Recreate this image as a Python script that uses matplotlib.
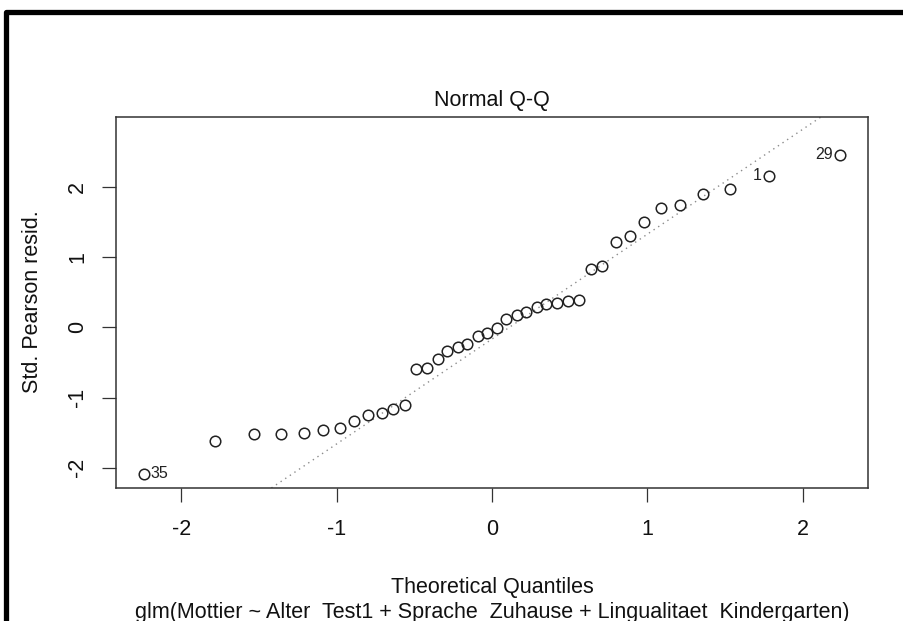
import numpy as np
import matplotlib.pyplot as plt
from matplotlib.lines import Line2D

plt.rcParams['font.family'] = ['Liberation Sans', 'DejaVu Sans']
plt.rcParams['axes.unicode_minus'] = False

# sorted theoretical quantiles vs. standardized Pearson residuals of the glm
theo_q = [-2.24, -1.78, -1.53, -1.36, -1.21, -1.09, -0.98, -0.89, -0.80, -0.71,
          -0.64, -0.56, -0.49, -0.42, -0.35, -0.29, -0.22, -0.16, -0.09, -0.03,
          0.03, 0.09, 0.16, 0.22, 0.29, 0.35, 0.42, 0.49, 0.56, 0.64,
          0.71, 0.80, 0.89, 0.98, 1.09, 1.21, 1.36, 1.53, 1.78, 2.24]
std_resid = [-2.09, -1.62, -1.52, -1.52, -1.50, -1.46, -1.44, -1.33, -1.245, -1.22,
             -1.16, -1.10, -0.60, -0.58, -0.45, -0.33, -0.285, -0.23, -0.12, -0.08,
             -0.01, 0.12, 0.18, 0.22, 0.285, 0.34, 0.35, 0.37, 0.39, 0.83,
             0.88, 1.22, 1.31, 1.50, 1.70, 1.75, 1.90, 1.97, 2.16, 2.46]

# the three most extreme observations get their row number
label_idx = [0, 38, 39]
label_txt = ['35', '1', '29']
label_side = ['right', 'left', 'left']

x_ticks = [-2, -1, 0, 1, 2]
y_ticks = [-2, -1, 0, 1, 2]

FS = 15.5

fig = plt.figure(figsize=(9.04, 6.21), dpi=100)
ax = fig.add_axes([116 / 904, 1 - 488 / 621, 752 / 904, 371 / 621])

x = np.array(theo_q)
y = np.array(std_resid)

# reference line through the quartiles, like qqline()
q_lo, q_hi = np.percentile(y, [25, 75])
z75 = 0.6745
slope = (q_hi - q_lo) / (2 * z75)
icpt = (q_hi + q_lo) / 2
ax.axline((0, icpt), slope=slope, color='0.55', lw=1.0, linestyle=(0, (1, 3)), zorder=1)

ax.plot(x, y, 'o', ms=7.6, mfc='none', mec='#222222', mew=1.1, zorder=2)

for i, t, side in zip(label_idx, label_txt, label_side):
    dx = 5 if side == 'right' else -5
    ha = 'left' if side == 'right' else 'right'
    ax.annotate(t, (x[i], y[i]), xytext=(dx, 0), textcoords='offset points',
                ha=ha, va='center', fontsize=11.5, color='#222222')

ax.set_xlim(-2.42, 2.42)
ax.set_ylim(-2.29, 3.0)
ax.set_xticks(x_ticks)
ax.set_yticks(y_ticks)
ax.set_xticklabels([str(v) for v in x_ticks])
ax.set_yticklabels([str(v) for v in y_ticks], rotation=90, va='center')
ax.tick_params(direction='out', length=10, width=0.9, color='#333333',
               labelsize=FS, labelcolor='#111111')
ax.tick_params(axis='x', pad=12)
ax.tick_params(axis='y', pad=10)
for sp in ax.spines.values():
    sp.set_color('#333333')
    sp.set_linewidth(1.1)

ax.set_title('Normal Q-Q', fontsize=FS, pad=8, color='#111111')

# axis titles and model call underneath
fig.text(492 / 904, 1 - 593 / 621, 'Theoretical Quantiles', ha='center', va='baseline',
         fontsize=FS, color='#111111')
fig.text(492 / 904, 1 - 618 / 621,
         'glm(Mottier ~ Alter  Test1 + Sprache  Zuhause + Lingualitaet  Kindergarten)',
         ha='center', va='baseline', fontsize=FS, color='#111111')
fig.text(33 / 904, 1 - 302 / 621, 'Std. Pearson resid.', rotation=90, ha='center',
         va='center', fontsize=FS, color='#111111')

# heavy frame on the top and left edge
fig.add_artist(Line2D([6.5 / 904, 6.5 / 904, 1.0], [0.0, 1 - 12 / 621, 1 - 12 / 621],
                      transform=fig.transFigure, color='black', lw=3.8,
                      solid_joinstyle='round', solid_capstyle='butt'))

fig.savefig('out.png', dpi=100)
